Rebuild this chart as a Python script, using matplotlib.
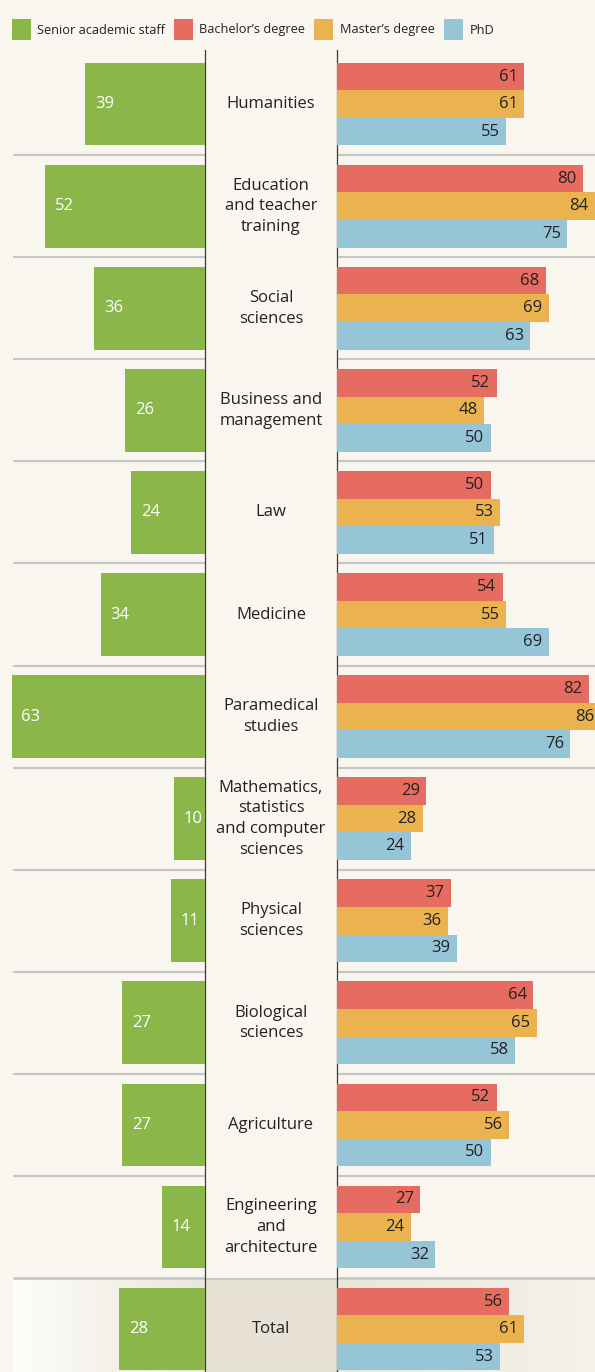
import numpy as np
import matplotlib
matplotlib.use("Agg")
import matplotlib.pyplot as plt
from matplotlib.patches import Rectangle
from matplotlib.colors import to_rgb

# ---------------- data ----------------
categories = ["Humanities", "Education\nand teacher\ntraining", "Social\nsciences",
              "Business and\nmanagement", "Law", "Medicine", "Paramedical\nstudies",
              "Mathematics,\nstatistics\nand computer\nsciences", "Physical\nsciences",
              "Biological\nsciences", "Agriculture", "Engineering\nand\narchitecture", "Total"]
senior_staff = [39, 52, 36, 26, 24, 34, 63, 10, 11, 27, 27, 14, 28]
bachelor = [61, 80, 68, 52, 50, 54, 82, 29, 37, 64, 52, 27, 56]
master = [61, 84, 69, 48, 53, 55, 86, 28, 36, 65, 56, 24, 61]
phd = [55, 75, 63, 50, 51, 69, 76, 24, 39, 58, 50, 32, 53]
legend_labels = ["Senior academic staff", "Bachelor’s degree", "Master’s degree", "PhD"]

# ---------------- style ----------------
BG = "#f9f6ef"
GREEN = "#8bb74a"
RED = "#e66b60"
ORANGE = "#ebb350"
BLUE = "#97c5d8"
TXT = "#222222"
FONT = "Open Sans"
plt.rcParams["font.family"] = [FONT, "DejaVu Sans"]

W, H = 595, 1372
fig = plt.figure(figsize=(W / 100, H / 100), dpi=100, facecolor=BG)

PX = 3.07            # pixels per unit
TOP = 50             # top of plot area (px)
ROW = 102.08
ymin_d = -0.53
ymax_d = ymin_d + (H - TOP) / ROW
n = len(categories)
y = np.arange(n)

def fy(px):  # figure fraction from top pixel
    return 1 - px / H

ax_h = (H - TOP) / H

# background axes in pixel x-units
bg = fig.add_axes([0, 0, 1, ax_h], zorder=0)
bg.set_xlim(0, W)
bg.set_ylim(ymax_d, ymin_d)
bg.axis("off")
bg.set_facecolor(BG)

# separators
for i in range(n - 1):
    lw = 1.5 if i < n - 2 else 2.0
    bg.plot([13, W], [i + 0.5, i + 0.5], color="#c6c6c4", lw=lw, solid_capstyle="butt", zorder=1)

# total row gradient background
c_white = np.array(to_rgb("#fefdfb"))
c_beige = np.array(to_rgb("#ebe6da"))
c_right = np.array(to_rgb("#f5f2ea"))
xs = np.arange(13, W)
grad = np.zeros((1, len(xs), 3))
for k, xx in enumerate(xs):
    if xx < 205:
        t = (xx - 13) / (205 - 13)
        grad[0, k] = c_white * (1 - t) + c_beige * t
    elif xx < 337:
        grad[0, k] = np.array(to_rgb("#e7e2d5"))
    else:
        t = (xx - 337) / (W - 337)
        grad[0, k] = c_beige * (1 - t) + c_right * t
bg.imshow(grad, extent=(13, W, ymax_d, n - 1.5 + 0.02), aspect="auto", zorder=0.5,
          interpolation="bilinear")

# center column (covers separators)
bg.add_patch(Rectangle((205, ymin_d), 132, (n - 1.5) - ymin_d, facecolor=BG, edgecolor="none", zorder=2))
# vertical lines
bg.plot([205, 205], [ymin_d, ymax_d], color="#3a3a3a", lw=0.9, zorder=3)
bg.plot([337, 337], [ymin_d, ymax_d], color="#3a3a3a", lw=0.9, zorder=3)

# category labels
for i, c in enumerate(categories):
    bg.text(271, i, c, ha="center", va="center", fontsize=12, color=TXT,
            linespacing=1.38, zorder=4)

# left axes (senior staff)
axl = fig.add_axes([0, 0, 205 / W, ax_h], zorder=1)
axl.set_xlim(205 / PX, 0)
axl.set_ylim(ymax_d, ymin_d)
axl.axis("off")
axl.patch.set_alpha(0)
gh = 0.81
axl.barh(y, senior_staff, height=gh, color=GREEN, edgecolor="none")
for i, v in enumerate(senior_staff):
    axl.annotate(str(v), (v, i), xytext=(7, 0), textcoords="offset points",
                 ha="left", va="center", color="white", fontsize=12)

# right axes (degrees)
axr = fig.add_axes([337 / W, 0, (W - 337) / W, ax_h], zorder=1)
axr.set_xlim(0, (W - 337) / PX)
axr.set_ylim(ymax_d, ymin_d)
axr.axis("off")
axr.patch.set_alpha(0)
bh = 0.27
for series, col, off in [(bachelor, RED, -bh), (master, ORANGE, 0), (phd, BLUE, bh)]:
    axr.barh(y + off, series, height=bh, color=col, edgecolor="none")
    for i, v in enumerate(series):
        axr.annotate(str(v), (v, i + off), xytext=(-4.5, 0), textcoords="offset points",
                     ha="right", va="center", color=TXT, fontsize=12,
                     annotation_clip=False)

# legend (manual, in figure pixels)
leg_sq = [(12, GREEN), (174, RED), (314, ORANGE), (444, BLUE)]
leg_tx = [37, 199, 340, 470]
for (sx, col), tx, lab in zip(leg_sq, leg_tx, legend_labels):
    fig.patches.append(Rectangle((sx / W, fy(40)), 19 / W, 21 / H, transform=fig.transFigure,
                                 facecolor=col, edgecolor="none"))
    fig.text(tx / W, fy(30), lab, ha="left", va="center", fontsize=9.2, color=TXT)

fig.savefig("out.png", dpi=100, facecolor=BG)
